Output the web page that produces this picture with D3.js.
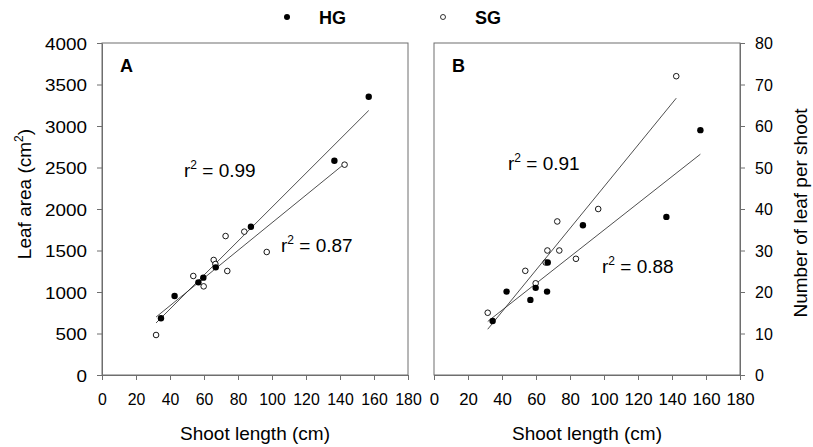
<!DOCTYPE html>
<html><head><meta charset="utf-8">
<script src="https://cdn.jsdelivr.net/npm/d3@7"></script>
<style>body{margin:0;background:#fff}svg{display:block;font-family:"Liberation Sans",Arial,sans-serif}</style>
</head><body>
<svg id="c" width="813" height="447"></svg>
<script>
// ---- data ----
const xTicks = [0,20,40,60,80,100,120,140,160,180];
const leafAreaTicks = [0,500,1000,1500,2000,2500,3000,3500,4000];
const leafNumTicks = [0,10,20,30,40,50,60,70,80];
// Panel A: leaf area vs shoot length
const aHG_x = [34.7,42.7,56.7,59.6,66.9,87.6,136.7,156.9];
const aHG_y = [683,952,1116,1173,1297,1787,2582,3353];
const aSG_x = [31.8,53.7,59.8,65.7,66.7,72.7,73.7,83.7,96.9,142.7];
const aSG_y = [482,1193,1068,1386,1337,1674,1253,1727,1482,2534];
// Panel B: number of leaves vs shoot length
const bHG_x = [34.5,42.7,56.7,59.8,66.5,66.9,87.6,136.7,156.7];
const bHG_y = [13.0,20.1,18.1,21.0,20.1,27.1,36.1,38.1,59.0];
const bSG_x = [31.6,53.7,59.8,65.7,66.7,72.5,73.7,83.5,96.6,142.5];
const bSG_y = [15.0,25.1,22.1,27.1,30.0,37.0,30.0,28.0,40.0,72.0];
const seriesNames = ["HG","SG"];
const r2A = ["0.99","0.87"];
const r2B = ["0.91","0.88"];

const svg = d3.select("#c");
const FONT = '"Liberation Sans",Arial,sans-serif';
const axisCol = "#6e6e6e";
const fmt = d3.format("d");

function fit(xs, ys){
  const mx = d3.mean(xs), my = d3.mean(ys);
  let sxy=0, sxx=0;
  xs.forEach((x,i)=>{sxy+=(x-mx)*(ys[i]-my); sxx+=(x-mx)*(x-mx);});
  const b = sxy/sxx; return {a: my-b*mx, b};
}

function panel(opt){
  const x = d3.scaleLinear().domain([0,180]).range(opt.xr);
  const y = d3.scaleLinear().domain(opt.yd).range([375,43]);
  const g = svg.append("g");
  // frame
  g.append("rect").attr("x",opt.xr[0]).attr("y",43).attr("width",opt.xr[1]-opt.xr[0]).attr("height",332)
    .attr("fill","none").attr("stroke",axisCol).attr("stroke-width",1);
  // bottom axis
  const xa = g.append("g").attr("transform","translate(0,375)")
    .call(d3.axisBottom(x).tickValues(xTicks).tickFormat(fmt).tickSize(5).tickSizeOuter(0));
  xa.select(".domain").attr("stroke",axisCol);
  xa.selectAll(".tick line").attr("stroke",axisCol);
  xa.selectAll(".tick text").attr("fill","#000").attr("font-family",FONT).attr("font-size",16.5)
    .attr("y",0).attr("dy",0).attr("transform",`translate(0,30) scale(${opt.xs},1)`);
  // y axis
  const yAxis = opt.right ? d3.axisRight(y) : d3.axisLeft(y);
  const ya = g.append("g").attr("transform",`translate(${opt.right?opt.xr[1]:opt.xr[0]},0)`)
    .call(yAxis.tickValues(opt.yt).tickFormat(fmt).tickSize(5).tickSizeOuter(0));
  ya.select(".domain").attr("stroke",axisCol);
  ya.selectAll(".tick text").attr("fill","#000").attr("font-family",FONT)
    .attr("font-size", opt.right ? 16 : 17)
    .attr("x",0).attr("dy","0.36em")
    .attr("transform", opt.right ? "translate(15,0) scale(1.0,1)" : "translate(-15,0) scale(1.11,1)");
  ya.selectAll(".tick line").attr("stroke",axisCol);
  // regression lines
  const x0 = Math.min(d3.min(opt.hx), d3.min(opt.sx));
  [[opt.hx,opt.hy],[opt.sx,opt.sy]].forEach(([xs,ys])=>{
    const f = fit(xs,ys), x1 = d3.max(xs);
    g.append("line").attr("x1",x(x0)).attr("y1",y(f.a+f.b*x0)).attr("x2",x(x1)).attr("y2",y(f.a+f.b*x1))
      .attr("stroke","#222").attr("stroke-width",0.8);
  });
  // points
  g.selectAll(".sg").data(opt.sx.map((v,i)=>[v,opt.sy[i]])).join("circle")
    .attr("cx",d=>x(d[0])).attr("cy",d=>y(d[1])).attr("r",2.8)
    .attr("fill","#fff").attr("stroke","#000").attr("stroke-width",0.9);
  g.selectAll(".hg").data(opt.hx.map((v,i)=>[v,opt.hy[i]])).join("circle")
    .attr("cx",d=>x(d[0])).attr("cy",d=>y(d[1])).attr("r",3.2).attr("fill","#000");
  // panel letter
  g.append("text").attr("x",opt.xr[0]+18).attr("y",72).attr("font-size",18).attr("font-weight","bold").text(opt.letter);
  // r2 labels
  opt.r2.forEach((v,i)=>{
    const t = g.append("text").attr("x",opt.r2pos[i][0]).attr("y",opt.r2pos[i][1]).attr("font-size",19);
    t.append("tspan").text("r");
    t.append("tspan").attr("font-size",12).attr("dy",-8).text("2");
    t.append("tspan").attr("dy",8).text(" = "+v);
  });
  // x title
  g.append("text").attr("x",(opt.xr[0]+opt.xr[1])/2).attr("y",440).attr("text-anchor","middle")
    .attr("font-size",19).text("Shoot length (cm)");
}

panel({xr:[102,408], yd:[0,4000], yt:leafAreaTicks, right:false, letter:"A", xs:0.96,
  hx:aHG_x, hy:aHG_y, sx:aSG_x, sy:aSG_y, r2:r2A, r2pos:[[184,177],[281,252]]});
panel({xr:[434,740], yd:[0,80], yt:leafNumTicks, right:true, letter:"B", xs:1.02,
  hx:bHG_x, hy:bHG_y, sx:bSG_x, sy:bSG_y, r2:r2B, r2pos:[[508,170],[602,273]]});

// y titles
const lt = svg.append("text").attr("transform","translate(31,194) rotate(-90)").attr("text-anchor","middle").attr("font-size",19);
lt.append("tspan").text("Leaf area (cm");
lt.append("tspan").attr("font-size",12).attr("dy",-8).text("2");
lt.append("tspan").attr("dy",8).text(")");
svg.append("text").attr("transform","translate(807,213) rotate(-90)").attr("text-anchor","middle").attr("font-size",19)
  .text("Number of leaf per shoot");

// legend
svg.append("circle").attr("cx",287).attr("cy",17).attr("r",3).attr("fill","#000");
svg.append("text").attr("x",319).attr("y",24).attr("font-size",18).attr("font-weight","bold").text(seriesNames[0]);
svg.append("circle").attr("cx",443).attr("cy",17).attr("r",2.5).attr("fill","#fff").attr("stroke","#000").attr("stroke-width",0.8);
svg.append("text").attr("x",475).attr("y",24).attr("font-size",18).attr("font-weight","bold").text(seriesNames[1]);
</script>
</body></html>
